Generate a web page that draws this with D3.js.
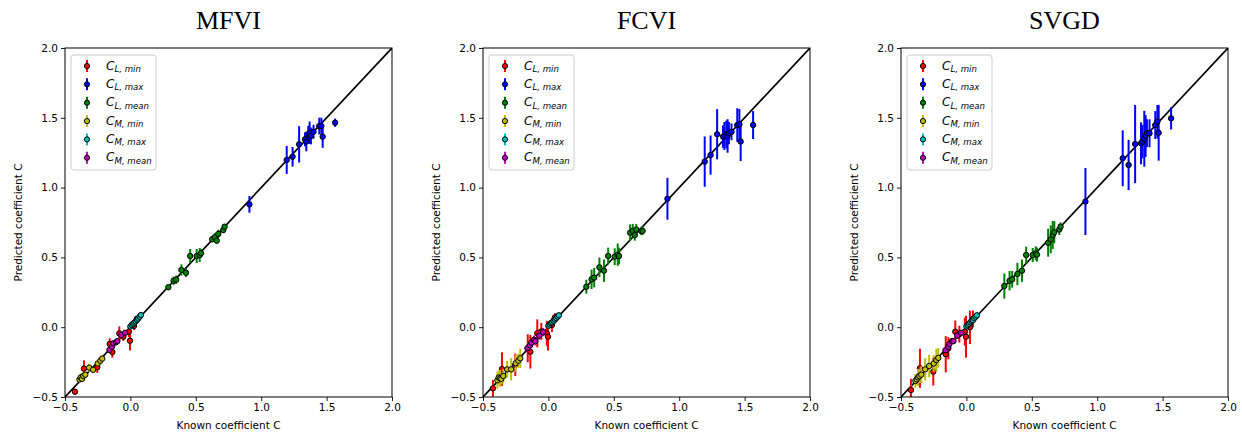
<!DOCTYPE html>
<html>
<head>
<meta charset="utf-8">
<script src="https://cdn.jsdelivr.net/npm/d3@7"></script>
<style>
body { margin: 0; background: #fff; }
svg { display: block; }
</style>
</head>
<body>
<svg id="chart" width="1242" height="432"></svg>
<script>
const methods = ["MFVI", "FCVI", "SVGD"];
const groupNames = [["L", "min"], ["L", "max"], ["L", "mean"], ["M", "min"], ["M", "max"], ["M", "mean"]];
const groupColors = ["#ff0000", "#0000ff", "#008000", "#bfbf00", "#00bfbf", "#bf00bf"];
const axisTicks = [-0.5, 0.0, 0.5, 1.0, 1.5, 2.0];

// known coefficients (shared by all methods)
const knownLmin = [-0.424, -0.355, -0.253, -0.158, -0.138, -0.085, -0.054, -0.012, -0.003, 0.027, 0.05];
const knownLmax = [0.91, 1.195, 1.24, 1.29, 1.335, 1.345, 1.36, 1.37, 1.38, 1.40, 1.444, 1.46, 1.47, 1.565];
const knownLmean = [0.29, 0.33, 0.35, 0.39, 0.425, 0.457, 0.507, 0.53, 0.54, 0.625, 0.645, 0.66, 0.672, 0.71, 0.72];
const knownMmin = [-0.39, -0.38, -0.37, -0.36, -0.345, -0.315, -0.285, -0.25, -0.23, -0.215];
const knownMmax = [0.0, 0.01, 0.02, 0.03, 0.04, 0.05, 0.06, 0.07, 0.08];
const knownMmean = [-0.16, -0.14, -0.13, -0.11, -0.10, -0.07, -0.04];

// MFVI predictions and errors
const mfviLmin = [-0.462, -0.297, -0.287, -0.12, -0.178, -0.044, -0.068, -0.032, -0.097, 0.009, 0.06];
const mfviLminErr = [0.02, 0.06, 0.04, 0.04, 0.04, 0.05, 0.03, 0.04, 0.07, 0.03, 0.02];
const mfviLmax = [0.88, 1.198, 1.221, 1.31, 1.346, 1.33, 1.382, 1.393, 1.37, 1.40, 1.441, 1.441, 1.365, 1.465];
const mfviLmaxErr = [0.06, 0.1, 0.07, 0.13, 0.05, 0.07, 0.06, 0.08, 0.06, 0.05, 0.06, 0.06, 0.08, 0.03];
const mfviLmean = [0.286, 0.333, 0.34, 0.41, 0.39, 0.51, 0.51, 0.517, 0.53, 0.63, 0.644, 0.62, 0.668, 0.696, 0.72];
const mfviLmeanErr = [0.02, 0.03, 0.03, 0.04, 0.03, 0.05, 0.05, 0.05, 0.03, 0.02, 0.03, 0.02, 0.03, 0.02, 0.02];
const mfviMmin = [-0.375, -0.36, -0.37, -0.35, -0.34, -0.29, -0.305, -0.26, -0.24, -0.225];
const mfviMminErr = [0.02, 0.03, 0.02, 0.03, 0.02, 0.03, 0.02, 0.02, 0.03, 0.02];
const mfviMmax = [0.005, 0.016, 0.025, 0.032, 0.042, 0.052, 0.062, 0.075, 0.087];
const mfviMmaxErr = [0.015, 0.01, 0.015, 0.01, 0.015, 0.01, 0.015, 0.01, 0.01];
const mfviMmean = [-0.163, -0.14, -0.115, -0.108, -0.1, -0.056, -0.04];
const mfviMmeanErr = [0.015, 0.015, 0.015, 0.015, 0.015, 0.015, 0.015];

// FCVI predictions and errors
const fcviLmin = [-0.438, -0.30, -0.27, -0.151, -0.176, -0.044, -0.03, -0.044, -0.068, 0.016, 0.07];
const fcviLminErr = [0.06, 0.12, 0.08, 0.1, 0.12, 0.1, 0.06, 0.09, 0.1, 0.05, 0.03];
const fcviLmax = [0.92, 1.186, 1.233, 1.382, 1.365, 1.37, 1.38, 1.37, 1.39, 1.40, 1.448, 1.453, 1.33, 1.448];
const fcviLmaxErr = [0.15, 0.18, 0.14, 0.18, 0.08, 0.1, 0.1, 0.12, 0.08, 0.06, 0.12, 0.11, 0.14, 0.1];
const fcviLmean = [0.29, 0.343, 0.355, 0.429, 0.405, 0.51, 0.505, 0.52, 0.51, 0.677, 0.69, 0.66, 0.70, 0.689, 0.69];
const fcviLmeanErr = [0.05, 0.07, 0.07, 0.07, 0.08, 0.06, 0.06, 0.08, 0.06, 0.06, 0.05, 0.04, 0.04, 0.03, 0.03];
const fcviMmin = [-0.38, -0.36, -0.366, -0.37, -0.35, -0.302, -0.302, -0.258, -0.24, -0.223];
const fcviMminErr = [0.06, 0.05, 0.06, 0.04, 0.05, 0.06, 0.08, 0.06, 0.05, 0.07];
const fcviMmax = [0.01, 0.02, 0.03, 0.035, 0.045, 0.055, 0.065, 0.075, 0.085];
const fcviMmaxErr = [0.02, 0.02, 0.02, 0.02, 0.02, 0.02, 0.02, 0.02, 0.02];
const fcviMmean = [-0.15, -0.13, -0.11, -0.09, -0.1, -0.06, -0.035];
const fcviMmeanErr = [0.03, 0.03, 0.03, 0.03, 0.03, 0.03, 0.03];

// SVGD predictions and errors
const svgdLmin = [-0.45, -0.294, -0.318, -0.194, -0.151, -0.032, -0.05, -0.032, -0.068, -0.001, 0.06];
const svgdLminErr = [0.08, 0.14, 0.1, 0.13, 0.08, 0.08, 0.06, 0.1, 0.15, 0.12, 0.06];
const svgdLmax = [0.90, 1.21, 1.162, 1.312, 1.317, 1.33, 1.35, 1.37, 1.39, 1.389, 1.448, 1.472, 1.393, 1.496];
const svgdLmaxErr = [0.24, 0.2, 0.18, 0.28, 0.15, 0.12, 0.2, 0.15, 0.1, 0.1, 0.1, 0.12, 0.2, 0.08];
const svgdLmean = [0.295, 0.333, 0.343, 0.381, 0.405, 0.517, 0.517, 0.529, 0.52, 0.605, 0.63, 0.66, 0.68, 0.70, 0.72];
const svgdLmeanErr = [0.09, 0.07, 0.06, 0.08, 0.08, 0.06, 0.05, 0.05, 0.05, 0.1, 0.1, 0.1, 0.08, 0.04, 0.03];
const svgdMmin = [-0.385, -0.373, -0.36, -0.35, -0.34, -0.302, -0.278, -0.26, -0.235, -0.22];
const svgdMminErr = [0.05, 0.04, 0.06, 0.05, 0.06, 0.08, 0.08, 0.06, 0.08, 0.07];
const svgdMmax = [0.005, 0.015, 0.025, 0.035, 0.045, 0.05, 0.065, 0.075, 0.085];
const svgdMmaxErr = [0.02, 0.02, 0.02, 0.02, 0.02, 0.02, 0.02, 0.02, 0.02];
const svgdMmean = [-0.165, -0.14, -0.12, -0.1, -0.1, -0.06, -0.04];
const svgdMmeanErr = [0.02, 0.02, 0.02, 0.02, 0.02, 0.02, 0.02];

const known = [knownLmin, knownLmax, knownLmean, knownMmin, knownMmax, knownMmean];
const predicted = {
    MFVI: [[mfviLmin, mfviLminErr], [mfviLmax, mfviLmaxErr], [mfviLmean, mfviLmeanErr],
           [mfviMmin, mfviMminErr], [mfviMmax, mfviMmaxErr], [mfviMmean, mfviMmeanErr]],
    FCVI: [[fcviLmin, fcviLminErr], [fcviLmax, fcviLmaxErr], [fcviLmean, fcviLmeanErr],
           [fcviMmin, fcviMminErr], [fcviMmax, fcviMmaxErr], [fcviMmean, fcviMmeanErr]],
    SVGD: [[svgdLmin, svgdLminErr], [svgdLmax, svgdLmaxErr], [svgdLmean, svgdLmeanErr],
           [svgdMmin, svgdMminErr], [svgdMmax, svgdMmaxErr], [svgdMmean, svgdMmeanErr]]
};

const svg = d3.select("#chart");
const panelLefts = [65, 483, 901];
const plotW = 327;
const plotTop = 48, plotBottom = 397;
const fmt = d3.format(".1f");

methods.forEach((method, mi) => {
    const left = panelLefts[mi];
    const x = d3.scaleLinear().domain([-0.5, 2]).range([left, left + plotW]);
    const y = d3.scaleLinear().domain([-0.5, 2]).range([plotBottom, plotTop]);
    const g = svg.append("g");

    g.append("text")
        .attr("x", left + plotW / 2)
        .attr("y", 29)
        .attr("text-anchor", "middle")
        .attr("font-family", "Liberation Serif, Times New Roman, serif")
        .attr("font-size", 26)
        .text(method);

    const clipId = "clip" + mi;
    g.append("clipPath").attr("id", clipId)
        .append("rect").attr("x", left).attr("y", plotTop).attr("width", plotW).attr("height", plotBottom - plotTop);

    const plot = g.append("g").attr("clip-path", `url(#${clipId})`);

    plot.append("line")
        .attr("x1", x(-0.5)).attr("y1", y(-0.5))
        .attr("x2", x(2)).attr("y2", y(2))
        .attr("stroke", "#000").attr("stroke-width", 1.7);

    predicted[method].forEach(([vals, errs], gi) => {
        const pts = known[gi].map((k, i) => ({k, v: vals[i], e: errs[i]}));
        const grp = plot.append("g");
        grp.selectAll("line.err").data(pts).enter().append("line")
            .attr("class", "err")
            .attr("x1", d => x(d.k)).attr("x2", d => x(d.k))
            .attr("y1", d => y(d.v - d.e)).attr("y2", d => y(d.v + d.e))
            .attr("stroke", groupColors[gi]).attr("stroke-width", 2);
        grp.selectAll("circle").data(pts).enter().append("circle")
            .attr("cx", d => x(d.k)).attr("cy", d => y(d.v))
            .attr("r", 2.7)
            .attr("fill", groupColors[gi])
            .attr("stroke", "#000").attr("stroke-width", 1);
    });

    const xAxis = g.append("g")
        .attr("transform", `translate(0,${plotBottom})`)
        .call(d3.axisBottom(x).tickValues(axisTicks).tickFormat(fmt).tickSize(4).tickPadding(3));
    const yAxis = g.append("g")
        .attr("transform", `translate(${left},0)`)
        .call(d3.axisLeft(y).tickValues(axisTicks).tickFormat(fmt).tickSize(4).tickPadding(3));
    [xAxis, yAxis].forEach(a => {
        a.select(".domain").remove();
        a.selectAll("text").attr("font-family", "DejaVu Sans, sans-serif").attr("font-size", 10.5).attr("fill", "#000");
        a.selectAll("line").attr("stroke", "#000").attr("stroke-width", 0.9);
    });

    g.append("rect")
        .attr("x", left).attr("y", plotTop).attr("width", plotW).attr("height", plotBottom - plotTop)
        .attr("fill", "none").attr("stroke", "#000").attr("stroke-width", 1);

    g.append("text")
        .attr("x", left + plotW / 2).attr("y", 429)
        .attr("text-anchor", "middle")
        .attr("font-family", "DejaVu Sans, sans-serif").attr("font-size", 10.5)
        .text("Known coefficient C");

    g.append("text")
        .attr("transform", `translate(${left - 43},${(plotTop + plotBottom) / 2}) rotate(-90)`)
        .attr("text-anchor", "middle")
        .attr("font-family", "DejaVu Sans, sans-serif").attr("font-size", 10.5)
        .text("Predicted coefficient C");

    // legend
    const lg = g.append("g").attr("transform", `translate(${left + 6},${plotTop + 7})`);
    lg.append("rect")
        .attr("width", 85).attr("height", 115).attr("rx", 3)
        .attr("fill", "#fff").attr("fill-opacity", 0.8)
        .attr("stroke", "#ccc").attr("stroke-width", 1);
    groupNames.forEach(([a, b], gi) => {
        const ry = 11 + gi * 18.35;
        lg.append("line")
            .attr("x1", 16).attr("x2", 16).attr("y1", ry - 6).attr("y2", ry + 6)
            .attr("stroke", groupColors[gi]).attr("stroke-width", 2);
        lg.append("circle")
            .attr("cx", 16).attr("cy", ry).attr("r", 2.6)
            .attr("fill", groupColors[gi]).attr("stroke", "#000").attr("stroke-width", 1);
        const t = lg.append("text")
            .attr("x", 35).attr("y", ry + 3.5)
            .attr("font-family", "DejaVu Sans, sans-serif").attr("font-style", "italic")
            .attr("font-size", 12);
        t.append("tspan").text("C");
        t.append("tspan").attr("font-size", 8.6).attr("dy", 2.5).text(a + ", " + b);
    });
});
</script>
</body>
</html>
